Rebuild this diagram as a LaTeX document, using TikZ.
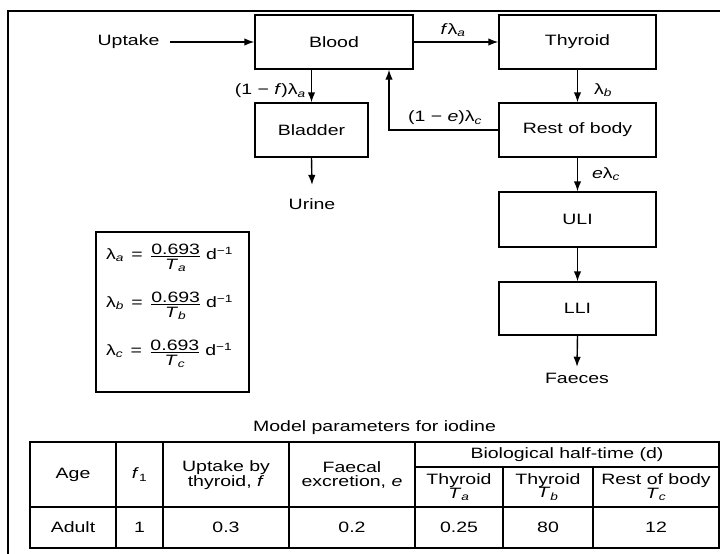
\documentclass[tikz,border=0pt]{standalone}
\usepackage{amsmath}
\usepackage{fontspec}
\setmainfont{Liberation Sans}[FakeStretch=1.3]
\usetikzlibrary{arrows.meta}

% stacked fraction with a tight bar, bottom row sits below the baseline
\newcommand\halffrac[2]{\raisebox{-9.7pt}{\setlength{\arrayrulewidth}{1.1pt}%
  \begin{tabular}[b]{@{}c@{}}#1\\[-2.4pt]\hline\rule{0pt}{12.2pt}#2\end{tabular}}}
% one rate-constant line
\newcommand\rateline[1]{λ\textsubscript{\textit{#1}}\hspace{2pt} = \hspace{3pt}%
  \halffrac{0.693}{\textit{T}\textsubscript{\textit{#1}}}\hspace{6pt}d\textsuperscript{−1}}

\begin{document}
\begin{tikzpicture}[x=1pt,y=-1pt,
  font=\fontsize{15}{13.5}\selectfont,
  box/.style={draw=black, line width=1.4pt, minimum width=158pt,
    minimum height=54pt, inner sep=0pt},
  flow/.style={-{Latex[length=10pt,width=7.5pt]}, line width=1.4pt},
  lbl/.style={inner sep=0pt},
  grid/.style={line width=1.3pt}]
\useasboundingbox (0,0) rectangle (720,554);
\fill[white] (0,0) rectangle (720,554);

% frame
\draw[line width=2.4pt] (8,554) -- (8,11) -- (720,11);

% compartments
\node[box] (blood) at (334,42) {Blood};
\node[box, minimum width=157pt] (thyroid) at (577.5,42) {Thyroid};
\node[box, minimum width=113pt] (bladder) at (311.5,130) {Bladder};
\node[box, minimum width=157pt] (rest) at (577.5,130) {Rest of body};
\node[box, minimum width=157pt, minimum height=55pt] (uli) at (577.5,219.5) {ULI};
\node[box, minimum width=157pt, minimum height=53pt] (lli) at (577.5,308.5) {LLI};

% sources and sinks
\node[lbl, outer xsep=11pt] (uptake) at (128.5,41.5) {Uptake};
\node[lbl, outer ysep=13.6pt] (urine) at (312,204) {Urine};
\node[lbl, outer ysep=6pt] (faeces) at (577,378) {Faeces};

% transfers
\draw[flow] (blood.west -| uptake.east) -- (blood.west);
\draw[flow] (blood.east) -- (thyroid.west);
\draw[flow] (bladder.north |- blood.south) -- (bladder.north);
\draw[flow] (thyroid.south) -- (rest.north);
\draw[flow] (rest.west) -| ([xshift=55pt]blood.south);
\draw[flow] (rest.south) -- (uli.north);
\draw[flow] (uli.south) -- (lli.north);
\draw[flow] (bladder.south) -- (urine.north);
\draw[flow] (lli.south) -- (faeces.north);

% rate labels
\node[lbl] (lfa) at (453,30) {\textit{f}λ\textsubscript{\textit{a}}};
\node[lbl, anchor=east] (lfb) at (306,91) {(1 − \textit{f})λ\textsubscript{\textit{a}}};
\node[lbl] (llb) at (603,90) {λ\textsubscript{\textit{b}}};
\node[lbl] (lec) at (445,118) {(1 − \textit{e})λ\textsubscript{\textit{c}}};
\node[lbl] (lel) at (606,174) {\textit{e}λ\textsubscript{\textit{c}}};

% rate constants
\node[draw, line width=1.3pt, minimum width=153pt, minimum height=160pt,
  inner sep=0pt] (rates) at (172.5,312) {};
\node[lbl, anchor=base west] (ra) at (106,259.3) {\rateline{a}};
\node[lbl, anchor=base west] (rb) at (106,307.3) {\rateline{b}};
\node[lbl, anchor=base west] (rc) at (106,355.3) {\rateline{c}};

% parameter table
\node[lbl] (caption) at (374.5,428) {Model parameters for iodine};
\draw[grid] (30,442) rectangle (719,548);
\draw[grid] (30,507) -- (719,507);
\draw[grid] (415,467) -- (719,467);
\foreach \cx in {116,163,289,415} \draw[grid] (\cx,442) -- (\cx,548);
\foreach \cx in {503,593} \draw[grid] (\cx,467) -- (\cx,548);

\node[lbl] (hage) at (73,474.5) {Age};
\node[lbl] (hfone) at (139.5,474.5) {\textit{f}\textsubscript{1}};
\node[lbl, align=center] (hup) at (226,475) {Uptake by\\thyroid, \textit{f}};
\node[lbl, align=center] (hfe) at (352,475) {Faecal\\excretion, \textit{e}};
\node[lbl] (hbio) at (567,454.5) {Biological half-time (d)};
\node[lbl, align=center] (hta) at (459,487) {Thyroid\\\textit{T}\textsubscript{\textit{a}}};
\node[lbl, align=center] (htb) at (548,487) {Thyroid\\\textit{T}\textsubscript{\textit{b}}};
\node[lbl, align=center] (htc) at (656,487) {Rest of body\\\textit{T}\textsubscript{\textit{c}}};

\node[lbl] (vage) at (73,527.5) {Adult};
\node[lbl] (vfone) at (139.5,527.5) {1};
\node[lbl] (vup) at (226,527.5) {0.3};
\node[lbl] (vfe) at (352,527.5) {0.2};
\node[lbl] (vta) at (459,527.5) {0.25};
\node[lbl] (vtb) at (548,527.5) {80};
\node[lbl] (vtc) at (656,527.5) {12};
\end{tikzpicture}
\end{document}
